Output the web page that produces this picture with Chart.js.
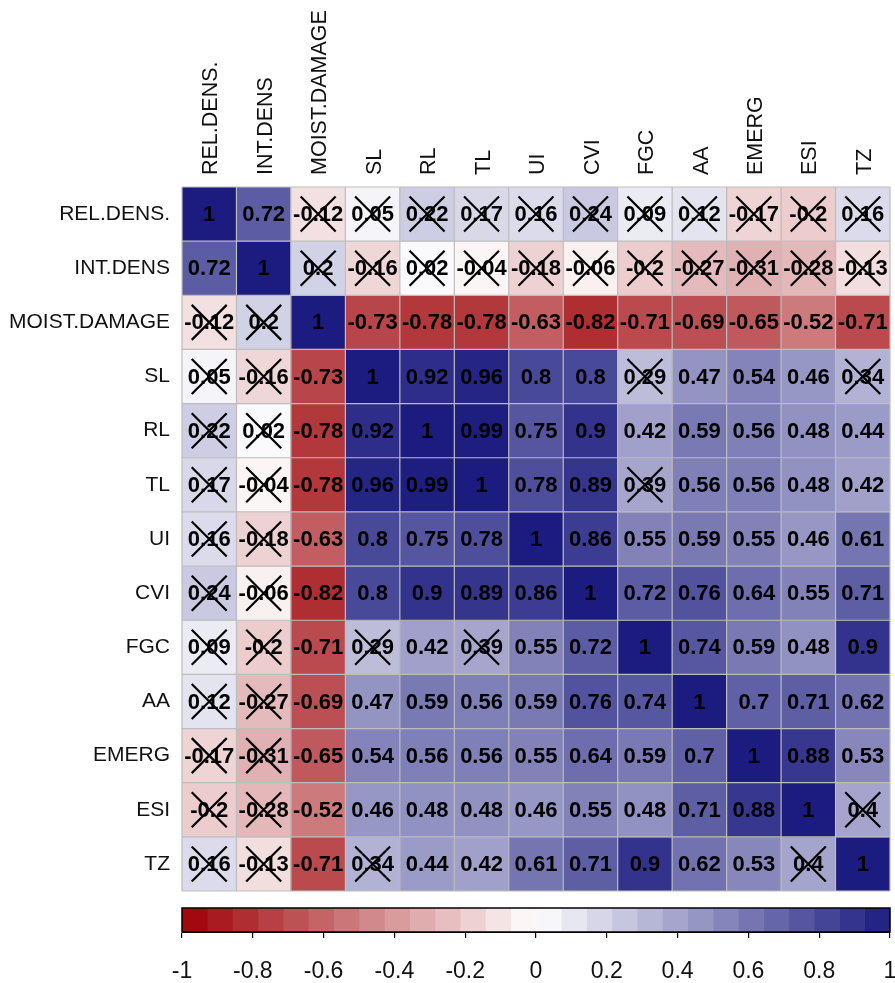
<!DOCTYPE html>
<html><head><meta charset="utf-8">
<script src="https://cdn.jsdelivr.net/npm/chart.js@4.4.1/dist/chart.umd.min.js"></script>
<style>
html,body{margin:0;padding:0;background:#fff;}
#wrap{position:relative;width:895px;height:983px;overflow:hidden;}
#c1{position:absolute;left:0;top:0;}
#c2{position:absolute;left:0;top:900px;}
</style></head><body>
<div id="wrap"><canvas id="c1" width="895" height="900"></canvas><canvas id="c2" width="895" height="83"></canvas></div>
<script>
// ---- data ----
const variables = ['REL.DENS.','INT.DENS','MOIST.DAMAGE','SL','RL','TL','UI','CVI','FGC','AA','EMERG','ESI','TZ'];
const relDens     = [1, 0.72, -0.12, 0.05, 0.22, 0.17, 0.16, 0.24, 0.09, 0.12, -0.17, -0.2, 0.16];
const intDens     = [0.72, 1, 0.2, -0.16, 0.02, -0.04, -0.18, -0.06, -0.2, -0.27, -0.31, -0.28, -0.13];
const moistDamage = [-0.12, 0.2, 1, -0.73, -0.78, -0.78, -0.63, -0.82, -0.71, -0.69, -0.65, -0.52, -0.71];
const sl          = [0.05, -0.16, -0.73, 1, 0.92, 0.96, 0.8, 0.8, 0.29, 0.47, 0.54, 0.46, 0.34];
const rl          = [0.22, 0.02, -0.78, 0.92, 1, 0.99, 0.75, 0.9, 0.42, 0.59, 0.56, 0.48, 0.44];
const tl          = [0.17, -0.04, -0.78, 0.96, 0.99, 1, 0.78, 0.89, 0.39, 0.56, 0.56, 0.48, 0.42];
const ui          = [0.16, -0.18, -0.63, 0.8, 0.75, 0.78, 1, 0.86, 0.55, 0.59, 0.55, 0.46, 0.61];
const cvi         = [0.24, -0.06, -0.82, 0.8, 0.9, 0.89, 0.86, 1, 0.72, 0.76, 0.64, 0.55, 0.71];
const fgc         = [0.09, -0.2, -0.71, 0.29, 0.42, 0.39, 0.55, 0.72, 1, 0.74, 0.59, 0.48, 0.9];
const aa          = [0.12, -0.27, -0.69, 0.47, 0.59, 0.56, 0.59, 0.76, 0.74, 1, 0.7, 0.71, 0.62];
const emerg       = [-0.17, -0.31, -0.65, 0.54, 0.56, 0.56, 0.55, 0.64, 0.59, 0.7, 1, 0.88, 0.53];
const esi         = [-0.2, -0.28, -0.52, 0.46, 0.48, 0.48, 0.46, 0.55, 0.48, 0.71, 0.88, 1, 0.4];
const tz          = [0.16, -0.13, -0.71, 0.34, 0.44, 0.42, 0.61, 0.71, 0.9, 0.62, 0.53, 0.4, 1];
const corrRows = [relDens, intDens, moistDamage, sl, rl, tl, ui, cvi, fgc, aa, emerg, esi, tz];
const significanceCutoff = 0.41; // |r| below this is crossed out (not significant)
const colorbarTicks = [-1, -0.8, -0.6, -0.4, -0.2, 0, 0.2, 0.4, 0.6, 0.8, 1];
const colorbarSegments = 28;

// ---- colours ----
const NEG_END = [158, 0, 5], POS_END = [28, 28, 128];
function colorFor(v) {
  const t = Math.min(1, Math.abs(v));
  const e = v < 0 ? NEG_END : POS_END;
  const c = e.map(ch => Math.round(255 + (ch - 255) * t));
  return `rgb(${c[0]},${c[1]},${c[2]})`;
}
const FONT = "'Liberation Sans', Arial, sans-serif";

// ---- matrix chart ----
const cellPlugin = {
  id: 'cells',
  afterDatasetsDraw(chart) {
    const ctx = chart.ctx, a = chart.chartArea, ys = chart.scales.y;
    ctx.save();
    // grid lines
    ctx.strokeStyle = '#BDBDBD';
    ctx.lineWidth = 1.2;
    const meta0 = chart.getDatasetMeta(0);
    const xs = [];
    meta0.data.forEach((el, j) => { xs.push(el.x - el.width / 2); if (j === meta0.data.length - 1) xs.push(el.x + el.width / 2); });
    xs.forEach(x => { ctx.beginPath(); ctx.moveTo(x, a.top); ctx.lineTo(x, a.bottom); ctx.stroke(); });
    for (let k = 0; k <= variables.length; k++) {
      const y = ys.getPixelForValue(k);
      ctx.beginPath(); ctx.moveTo(a.left, y); ctx.lineTo(a.right, y); ctx.stroke();
    }
    // numbers + crosses
    ctx.font = `bold 22px ${FONT}`;
    ctx.textAlign = 'center';
    ctx.textBaseline = 'middle';
    chart.data.datasets.forEach((ds, i) => {
      const meta = chart.getDatasetMeta(i);
      meta.data.forEach((el, j) => {
        const v = corrRows[i][j];
        const cx = el.x, cy = (el.y + el.base) / 2;
        ctx.fillStyle = '#000';
        ctx.fillText(String(v), cx, cy + 1);
        if (Math.abs(v) < significanceCutoff) {
          const h = 17.5;
          ctx.strokeStyle = '#000';
          ctx.lineWidth = 2.2;
          ctx.beginPath();
          ctx.moveTo(cx - h, cy - h); ctx.lineTo(cx + h, cy + h);
          ctx.moveTo(cx + h, cy - h); ctx.lineTo(cx - h, cy + h);
          ctx.stroke();
        }
      });
    });
    ctx.restore();
  }
};

new Chart(document.getElementById('c1'), {
  type: 'bar',
  data: {
    labels: variables,
    datasets: corrRows.map((row, i) => ({
      label: variables[i],
      data: row.map(() => 1),
      backgroundColor: row.map(colorFor),
      borderWidth: 0,
      barPercentage: 1,
      categoryPercentage: 1
    }))
  },
  options: {
    responsive: false, animation: false, devicePixelRatio: 1,
    layout: { padding: { left: 0, right: 5, top: 0, bottom: 9 } },
    plugins: { legend: { display: false }, tooltip: { enabled: false } },
    scales: {
      x: {
        type: 'category', position: 'top', stacked: true, offset: true,
        grid: { display: false, drawTicks: false }, border: { display: false },
        ticks: { autoSkip: false, minRotation: 90, maxRotation: 90, padding: 12, labelOffset: 28,
                 color: '#111', font: { family: FONT, size: 21.5 } },
        afterFit(s) { s.height = 187; s.paddingLeft = 0; s.paddingRight = 0; }
      },
      y: {
        type: 'linear', stacked: true, reverse: true, min: 0, max: variables.length,
        grid: { display: false, drawTicks: false }, border: { display: false },
        afterBuildTicks(s) { s.ticks = variables.map((_, i) => ({ value: i + 0.5 })); },
        ticks: { autoSkip: false, padding: 12, color: '#111', font: { family: FONT, size: 21 },
                 callback: (v) => variables[Math.floor(v)] },
        afterFit(s) { s.width = 182; s.paddingTop = 0; s.paddingBottom = 0; }
      }
    }
  },
  plugins: [cellPlugin]
});

// ---- colour bar ----
const breaks = [];
for (let k = 0; k <= colorbarSegments; k++) breaks.push(-1 + 2 * k / colorbarSegments);
const outlinePlugin = {
  id: 'outline',
  afterDatasetsDraw(chart) {
    const ctx = chart.ctx, a = chart.chartArea;
    ctx.save();
    ctx.strokeStyle = '#000'; ctx.lineWidth = 1.5;
    ctx.strokeRect(a.left, a.top, a.right - a.left, a.bottom - a.top);
    ctx.restore();
  }
};
new Chart(document.getElementById('c2'), {
  type: 'bar',
  data: {
    labels: [''],
    datasets: breaks.slice(0, -1).map((b, k) => ({
      data: [[b, breaks[k + 1]]],
      backgroundColor: colorFor((b + breaks[k + 1]) / 2),
      borderWidth: 0, grouped: false, barPercentage: 1, categoryPercentage: 1
    }))
  },
  options: {
    indexAxis: 'y',
    responsive: false, animation: false, devicePixelRatio: 1,
    layout: { padding: { left: 182, right: 5, top: 8, bottom: 0 } },
    plugins: { legend: { display: false }, tooltip: { enabled: false } },
    scales: {
      x: {
        type: 'linear', min: -1, max: 1,
        afterBuildTicks(s) { s.ticks = colorbarTicks.map(v => ({ value: v })); },
        grid: { drawOnChartArea: false, drawTicks: true, tickLength: 6, color: '#000', lineWidth: 1.2 },
        border: { display: true, color: '#000' },
        ticks: { autoSkip: false, maxRotation: 0, padding: 20, color: '#111', font: { family: FONT, size: 23 }, callback: (v) => String(v) },
        afterFit(s) { s.height = 51; s.paddingLeft = 0; s.paddingRight = 0; }
      },
      y: { type: 'category', display: false }
    }
  },
  plugins: [outlinePlugin]
});
</script>
</body></html>
